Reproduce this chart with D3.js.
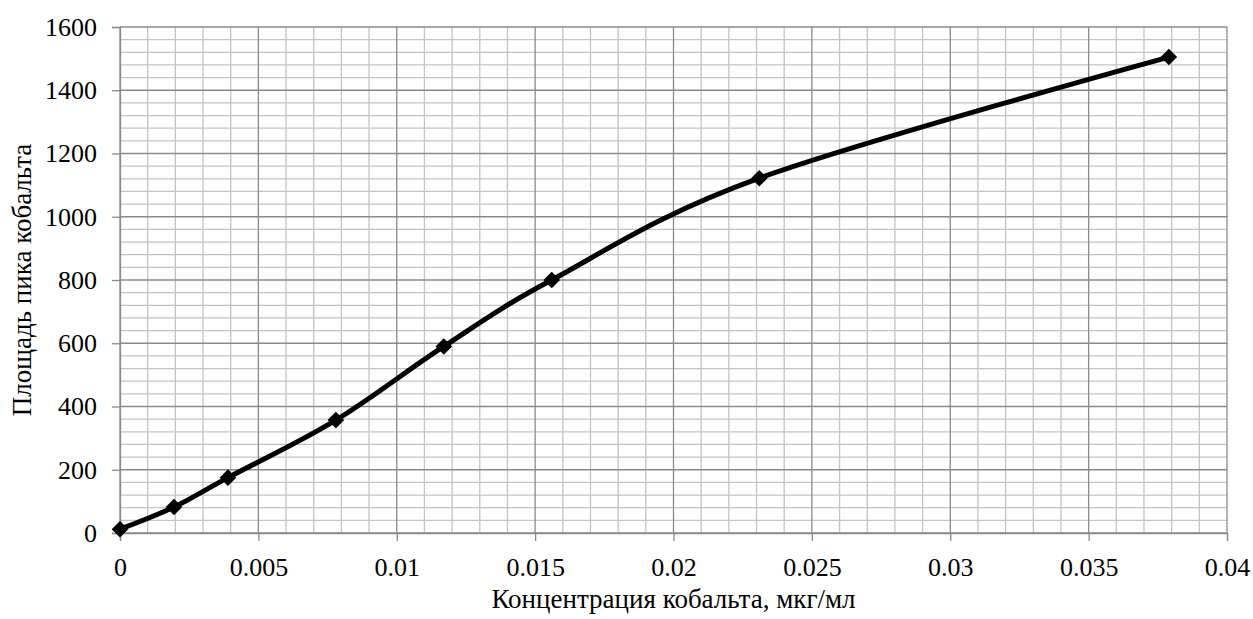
<!DOCTYPE html>
<html>
<head>
<meta charset="utf-8">
<script src="https://cdn.jsdelivr.net/npm/d3@7"></script>
<style>
  html, body { margin: 0; padding: 0; background: #fff; }
  svg text { font-family: "Liberation Serif", "Times New Roman", serif !important; fill: #000; }
</style>
</head>
<body>
<svg id="chart" width="1253" height="619"></svg>
<script>
// Calibration data: cobalt concentration vs. peak area
const concentration = [0, 0.00195, 0.0039, 0.0078, 0.0117, 0.0156, 0.0231, 0.0379];
const peakArea = [12, 82, 175, 357, 590, 800, 1122, 1505];
const xTicks = [0, 0.005, 0.01, 0.015, 0.02, 0.025, 0.03, 0.035, 0.04];
const yTicks = [0, 200, 400, 600, 800, 1000, 1200, 1400, 1600];
const xTitle = "Концентрация кобальта, мкг/мл";
const yTitle = "Площадь пика кобальта";

const svg = d3.select("#chart");
const plotLeft = 120, plotRight = 1227, plotTop = 27, plotBottom = 533;
const serif = "'Liberation Serif', 'Times New Roman', serif";

const x = d3.scaleLinear().domain([0, 0.04]).range([plotLeft, plotRight]);
const y = d3.scaleLinear().domain([0, 1600]).range([plotBottom, plotTop]);

const majorColor = "#8a8a8a", minorColor = "#c4c4c4";

// minor gridlines (every 0.001 and every 40)
const xMinor = d3.range(0, 41).map(i => i * 0.001).filter((v, i) => i % 5 !== 0);
const yMinor = d3.range(0, 41).map(i => i * 40).filter((v, i) => i % 5 !== 0);
const g = svg.append("g");
g.selectAll(".xm").data(xMinor).join("line")
  .attr("x1", d => x(d)).attr("x2", d => x(d))
  .attr("y1", plotTop).attr("y2", plotBottom)
  .attr("stroke", minorColor).attr("stroke-width", 1.3);
g.selectAll(".ym").data(yMinor).join("line")
  .attr("x1", plotLeft).attr("x2", plotRight)
  .attr("y1", d => y(d)).attr("y2", d => y(d))
  .attr("stroke", minorColor).attr("stroke-width", 1.3);

// major gridlines
g.selectAll(".xM").data(xTicks).join("line")
  .attr("x1", d => x(d)).attr("x2", d => x(d))
  .attr("y1", plotTop).attr("y2", plotBottom)
  .attr("stroke", majorColor).attr("stroke-width", 1.3);
g.selectAll(".yM").data(yTicks).join("line")
  .attr("x1", plotLeft).attr("x2", plotRight)
  .attr("y1", d => y(d)).attr("y2", d => y(d))
  .attr("stroke", majorColor).attr("stroke-width", 1.3);

// axes
const xAxis = svg.append("g").attr("transform", `translate(0,${plotBottom})`)
  .call(d3.axisBottom(x).tickValues(xTicks).tickSize(8).tickPadding(17)
    .tickFormat(d => d === 0 ? "0" : String(+d.toFixed(3))));
const yAxis = svg.append("g").attr("transform", `translate(${plotLeft},0)`)
  .call(d3.axisLeft(y).tickValues(yTicks).tickSize(8).tickPadding(15)
    .tickFormat(d3.format("d")));
[xAxis, yAxis].forEach(a => {
  a.attr("font-family", null).attr("font-size", null);
  a.select(".domain").attr("stroke", majorColor).attr("stroke-width", 1.3);
  a.selectAll(".tick line").attr("stroke", majorColor).attr("stroke-width", 1.3);
  a.selectAll(".tick text").style("font-size", "26px").style("font-family", serif);
});

// data line (smoothed)
const line = d3.line().x((d, i) => x(concentration[i])).y(d => y(d))
  .curve(d3.curveCatmullRom.alpha(0));
svg.append("path").datum(peakArea)
  .attr("d", line).attr("fill", "none")
  .attr("stroke", "#000").attr("stroke-width", 5).attr("stroke-linejoin", "round");

// diamond markers
const diamond = d3.symbol().type(d3.symbolDiamond2).size(175);
svg.selectAll(".pt").data(peakArea).join("path")
  .attr("transform", (d, i) => `translate(${x(concentration[i])},${y(d)})`)
  .attr("d", diamond).attr("fill", "#000");

// titles
svg.append("text").attr("x", (plotLeft + plotRight) / 2).attr("y", 608)
  .attr("text-anchor", "middle").style("font-size", "27px").style("font-family", serif)
  .text(xTitle);
svg.append("text").attr("transform", `translate(31,${(plotTop + plotBottom) / 2}) rotate(-90)`)
  .attr("text-anchor", "middle").style("font-size", "27px").style("font-family", serif)
  .text(yTitle);
</script>
</body>
</html>
